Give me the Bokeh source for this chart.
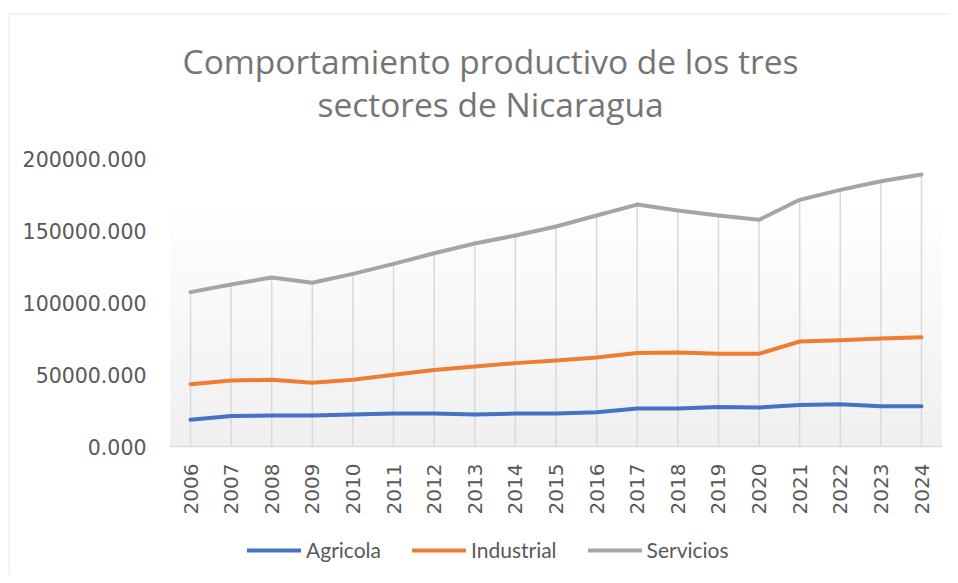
import math
from bokeh.plotting import figure
from bokeh.models import Label, Legend, LegendItem, Range1d, BoxAnnotation
from bokeh.core.properties import value
from bokeh.embed import file_html
from bokeh.resources import INLINE

years = [str(y) for y in range(2006, 2025)]
agricola = [18500, 21100, 21500, 21500, 22200, 22900, 22900, 22300, 22900, 22900,
            23800, 26400, 26400, 27500, 27100, 28900, 29400, 28000, 28000]
industrial = [43300, 45800, 46300, 44200, 46300, 49800, 53200, 55500, 57900, 59700,
              61800, 65000, 65300, 64400, 64400, 72900, 73800, 75000, 75900]
servicios = [107200, 112500, 117400, 113700, 119900, 126800, 134200, 141000, 146500, 152800,
             160400, 168000, 163900, 160400, 157400, 171300, 178200, 184200, 188900]
y_ticks = [0, 50000, 100000, 150000, 200000]
title_lines = ["Comportamiento productivo de los tres", "sectores de Nicaragua"]

TXT = "#595959"
GRID = "#d9d9d9"

xs = [int(y) for y in years]

# layout in pixels: first category centre at 190, last at 921, value 0 at 446, 200000 at 158
W, H = 950, 575
KX = (921 - 190) / (len(xs) - 1)          # px per category
PX = 200000 / 288.0                        # value per px
x_lo = xs[0] - 190 / KX
x_hi = xs[0] + (W - 190) / KX
y_lo = -(H - 446) * PX
y_hi = 446 * PX


def px_x(px):
    return xs[0] + (px - 190) / KX


def px_y(py):
    return (446 - py) * PX


p = figure(frame_width=W, frame_height=H, output_backend="svg", toolbar_location=None,
           x_range=Range1d(x_lo, x_hi), y_range=Range1d(y_lo, y_hi),
           x_axis_location=None, y_axis_location=None,
           title=None, min_border=0, background_fill_color="white", border_fill_color="white",
           outline_line_color=None)
p.xgrid.visible = False
p.ygrid.visible = False

# chart-area border (light gray, top and left)
p.add_layout(BoxAnnotation(left=px_x(8.5), top=px_y(13.5), right=x_hi + 5, bottom=y_lo - 50000,
                           fill_color=None, line_color=GRID, line_width=2))

# gradient background of the plot area (white at top -> light gray at bottom)
n = 40
for i in range(n):
    b = y_ticks[-1] * i / n
    t = y_ticks[-1] * (i + 1) / n
    frac = (i + 0.5) / n
    g = int(round(239 + (255 - 239) * min(1.0, frac / 0.85)))
    col = "#%02x%02x%02x" % (g, g, g)
    p.add_layout(BoxAnnotation(left=xs[0] - 0.5, right=xs[-1] + 0.5, bottom=b, top=t,
                               fill_color=col, fill_alpha=1.0, line_color=None, level="underlay"))

# baseline (category axis line)
p.segment(x0=[xs[0] - 0.5], y0=[0], x1=[xs[-1] + 0.5], y1=[0], line_color=GRID, line_width=1.5)

# drop lines
p.segment(x0=xs, y0=[0] * len(xs), x1=xs, y1=servicios, line_color=GRID, line_width=1.5)

r1 = p.line(xs, agricola, line_color="#4472C4", line_width=4, line_cap="round", line_join="round")
r2 = p.line(xs, industrial, line_color="#ED7D31", line_width=4, line_cap="round", line_join="round")
r3 = p.line(xs, servicios, line_color="#A5A5A5", line_width=4, line_cap="round", line_join="round")

# category labels (rotated, reading upward) under the baseline
p.text(x=xs, y=[0] * len(xs), text=years, angle=math.pi / 2, y_offset=17,
       text_align="right", text_baseline="middle", text_font=value("DejaVu Sans"),
       text_font_size="20px", text_color=TXT)

# value-axis labels
p.text(x=[px_x(146)] * len(y_ticks), y=y_ticks, text=["%.3f" % v for v in y_ticks],
       text_align="right", text_baseline="middle", text_font=value("DejaVu Sans"),
       text_font_size="20.5px", text_color=TXT)

legend = Legend(items=[LegendItem(label="Agricola", renderers=[r1]),
                       LegendItem(label="Industrial", renderers=[r2]),
                       LegendItem(label="Servicios", renderers=[r3])],
                orientation="horizontal", location=(247, 13),
                label_text_font="Lato", label_text_font_size="21px", label_text_color=TXT,
                glyph_width=54, glyph_height=20, label_standoff=5, spacing=31,
                border_line_color=None, background_fill_alpha=0, padding=4, margin=0)
p.add_layout(legend, "center")

# two-line chart title
for line, py in zip(title_lines, [60, 103]):
    p.add_layout(Label(x=px_x(490), y=px_y(py), text=line, text_align="center",
                       text_baseline="middle", text_font="Open Sans", text_font_size="33.5px",
                       text_color="#757575"))

open("out.html", "w").write(file_html(p, INLINE))
